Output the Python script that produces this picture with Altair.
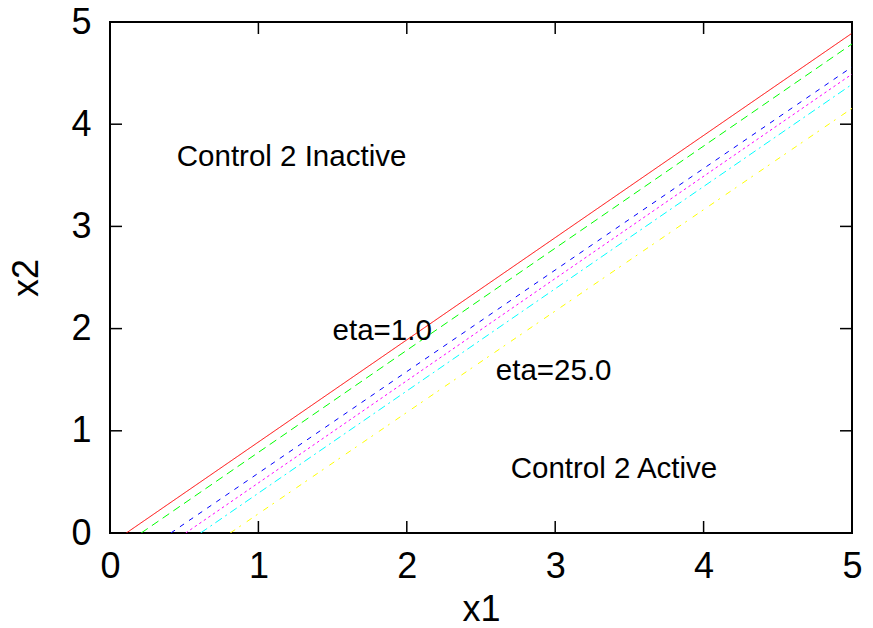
import altair as alt
import pandas as pd

# Series data: each curve runs from (x1_start, 0) to (5, x2_end)
series = ["eta1", "eta2", "eta3", "eta4", "eta5", "eta6"]
x1_start = [0.11, 0.21, 0.41, 0.51, 0.61, 0.81]
x1_end = [5.0, 5.0, 5.0, 5.0, 5.0, 5.0]
x2_start = [0.0, 0.0, 0.0, 0.0, 0.0, 0.0]
x2_end = [4.89, 4.785, 4.56, 4.49, 4.39, 4.155]

colors = ["#ff0000", "#00ff00", "#0000ff", "#ff00ff", "#00ffff", "#ffff00"]
dashes = [[1, 0], [8, 5], [5, 6], [2.5, 3], [8, 4, 2, 4], [6, 5, 2, 7]]

# Text labels
label_text = ["Control 2 Inactive", "eta=1.0", "eta=25.0", "Control 2 Active"]
label_x = [0.45, 1.5, 2.6, 2.7]
label_y = [3.7, 2.0, 1.6, 0.65]

tick_values = [0, 1, 2, 3, 4, 5]

W, H = 742, 511
FONT = "Liberation Sans"

rows = []
for s, xa, xb, ya, yb in zip(series, x1_start, x1_end, x2_start, x2_end):
    rows.append({"series": s, "x1": xa, "x2": ya, "order": 0})
    rows.append({"series": s, "x1": xb, "x2": yb, "order": 1})
lines_df = pd.DataFrame(rows)
labels_df = pd.DataFrame({"text": label_text, "x1": label_x, "x2": label_y})
ticks_df = pd.DataFrame({"v": tick_values})

xscale = alt.Scale(domain=[0, 5], nice=False, zero=False)
yscale = alt.Scale(domain=[0, 5], nice=False, zero=False)

xaxis = alt.Axis(
    values=tick_values, format="d", ticks=False, domain=False, grid=False,
    labelFontSize=36, labelFont=FONT, labelColor="black", labelPadding=16,
    labelFlush=False, labelOverlap=False,
    title="x1", titleFont=FONT, titleFontSize=36, titleColor="black",
    titleFontWeight="normal", titleBaseline="alphabetic", titleY=87,
)
yaxis = alt.Axis(
    values=tick_values, format="d", ticks=False, domain=False, grid=False,
    labelFontSize=36, labelFont=FONT, labelColor="black", labelPadding=19,
    labelFlush=False, labelOverlap=False, labelBaseline="middle",
    title="x2", titleFont=FONT, titleFontSize=36, titleColor="black",
    titleFontWeight="normal", titleBaseline="alphabetic", titleX=-73,
)

lines = alt.Chart(lines_df).mark_line(strokeWidth=1, clip=True).encode(
    x=alt.X("x1:Q", scale=xscale, axis=xaxis),
    y=alt.Y("x2:Q", scale=yscale, axis=yaxis),
    color=alt.Color("series:N", scale=alt.Scale(domain=series, range=colors), legend=None),
    strokeDash=alt.StrokeDash("series:N", scale=alt.Scale(domain=series, range=dashes), legend=None),
    order="order:Q",
)

texts = alt.Chart(labels_df).mark_text(
    align="left", baseline="middle", font=FONT, fontSize=29.5, color="black", dy=2
).encode(
    x=alt.X("x1:Q", scale=xscale),
    y=alt.Y("x2:Q", scale=yscale),
    text="text:N",
)

tick_len = 12
bottom_ticks = alt.Chart(ticks_df).mark_rule(color="black", strokeWidth=1.5).encode(
    x=alt.X("v:Q", scale=xscale), y=alt.value(H), y2=alt.value(H - tick_len)
)
top_ticks = alt.Chart(ticks_df).mark_rule(color="black", strokeWidth=1.5).encode(
    x=alt.X("v:Q", scale=xscale), y=alt.value(0), y2=alt.value(tick_len)
)
left_ticks = alt.Chart(ticks_df).mark_rule(color="black", strokeWidth=1.5).encode(
    y=alt.Y("v:Q", scale=yscale), x=alt.value(0), x2=alt.value(tick_len)
)
right_ticks = alt.Chart(ticks_df).mark_rule(color="black", strokeWidth=1.5).encode(
    y=alt.Y("v:Q", scale=yscale), x=alt.value(W), x2=alt.value(W - tick_len)
)

chart = alt.layer(
    lines, texts, bottom_ticks, top_ticks, left_ticks, right_ticks
).properties(
    width=W, height=H,
    autosize=alt.AutoSizeParams(type="none"),
    padding={"left": 110, "top": 22, "right": 21, "bottom": 95},
    background="white",
).configure_view(
    stroke="black", strokeWidth=2
)

chart.save("out.html", embed_options={"renderer": "svg", "actions": False})
